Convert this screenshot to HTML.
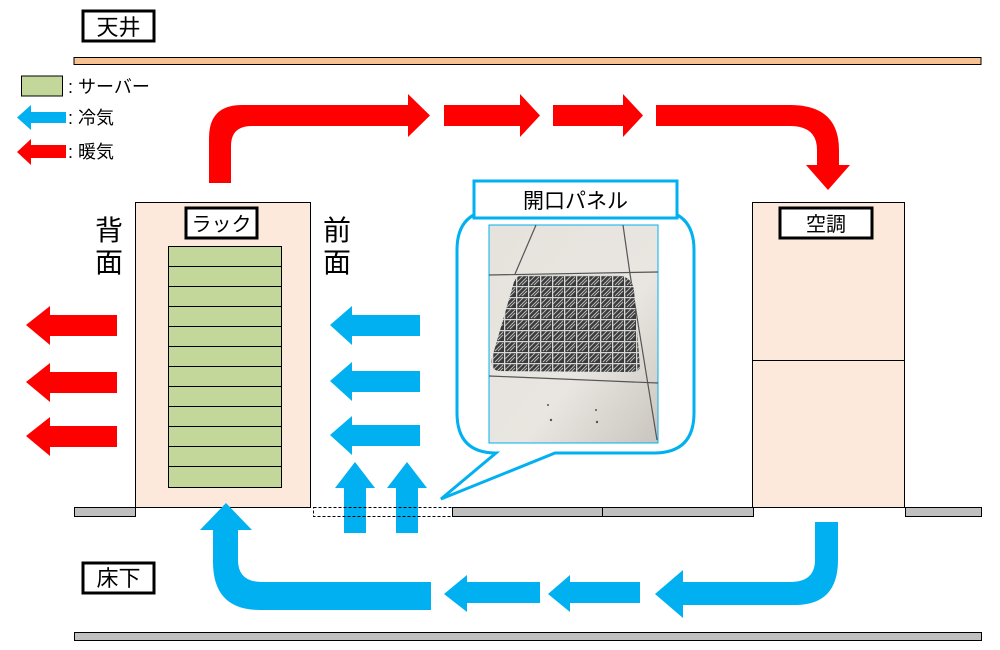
<!DOCTYPE html>
<html><head><meta charset="utf-8"><style>
html,body{margin:0;padding:0;background:#fff;}
svg{display:block;}
text{font-family:"Liberation Sans","Noto Sans CJK JP",sans-serif;fill:#000;}
</style></head><body>
<svg width="1000" height="650" viewBox="0 0 1000 650" xmlns="http://www.w3.org/2000/svg">
<defs>
<pattern id="grate" width="12" height="11" patternUnits="userSpaceOnUse">
<rect width="12" height="11" fill="#3a3a3a"/>
<path d="M0 0.5 H12 M0.5 0 V11" stroke="#d8d8d8" stroke-width="1.6"/>
<path d="M3 10 L11 2 M6 10 L11 5 M1 7 L7 1" stroke="#bdbdbd" stroke-width="0.9"/>
</pattern>
<linearGradient id="ph" x1="0" y1="0" x2="1" y2="1">
<stop offset="0" stop-color="#e6e2dc"/><stop offset="0.6" stop-color="#e9e6e1"/><stop offset="1" stop-color="#c9c5be"/>
</linearGradient>
</defs>

<!-- ceiling -->
<rect x="83" y="11" width="71" height="30" fill="#fff" stroke="#000" stroke-width="3"/>
<text x="118.5" y="35" font-size="22" text-anchor="middle">天井</text>
<rect x="74" y="57.5" width="907" height="7" fill="#f8c192" stroke="#000" stroke-width="1"/>

<!-- legend -->
<rect x="21.5" y="76" width="41" height="20" fill="#c4d79b" stroke="#000" stroke-width="1"/>
<text x="68" y="93" font-size="18">: サーバー</text>
<polygon points="17,117.5 31,105 31,112 66,112 66,123 31,123 31,130" fill="#00b0f0"/>
<text x="68" y="124" font-size="18">: 冷気</text>
<polygon points="17,152 31,139 31,145 66,145 66,158 31,158 31,165" fill="#ff0000"/>
<text x="68" y="158" font-size="18">: 暖気</text>

<!-- top red flow -->
<path d="M209,183 L209,138 Q209,105 242,105 L408,105 L408,94 L430,115.5 L408,137 L408,126 L252,126 Q231,126 231,146 L231,183 Z" fill="#ff0000"/>
<polygon points="444,105 520,105 520,94 540,115.5 520,137 520,126 444,126" fill="#ff0000"/>
<polygon points="553,105 623,105 623,94 643,115.5 623,137 623,126 553,126" fill="#ff0000"/>
<path d="M656,105 L790,105 Q839,105 839,150 L839,165 L850,165 L828,190 L806,165 L817,165 L817,150 Q817,126 790,126 L656,126 Z" fill="#ff0000"/>

<!-- rack -->
<rect x="135.5" y="202.5" width="175" height="305" fill="#fce9db" stroke="#000" stroke-width="1"/>
<rect x="186" y="208" width="71" height="30" fill="#fff" stroke="#000" stroke-width="3"/>
<text x="221.5" y="231" font-size="20" text-anchor="middle">ラック</text>
<g fill="#c4d79b" stroke="#000" stroke-width="1">
<rect x="168.5" y="246.5" width="113" height="20"/><rect x="168.5" y="266.5" width="113" height="20"/>
<rect x="168.5" y="286.5" width="113" height="20"/><rect x="168.5" y="306.5" width="113" height="20"/>
<rect x="168.5" y="326.5" width="113" height="20"/><rect x="168.5" y="346.5" width="113" height="20"/>
<rect x="168.5" y="366.5" width="113" height="20"/><rect x="168.5" y="386.5" width="113" height="20"/>
<rect x="168.5" y="406.5" width="113" height="20"/><rect x="168.5" y="426.5" width="113" height="20"/>
<rect x="168.5" y="446.5" width="113" height="20"/><rect x="168.5" y="466.5" width="113" height="21"/>
</g>
<text x="109" y="240" font-size="28" text-anchor="middle">背</text>
<text x="109" y="272" font-size="28" text-anchor="middle">面</text>
<text x="337" y="240" font-size="28" text-anchor="middle">前</text>
<text x="337" y="272" font-size="28" text-anchor="middle">面</text>

<!-- red left arrows -->
<polygon points="26,325 50,306 50,315 117,315 117,336 50,336 50,345" fill="#ff0000"/>
<polygon points="26,382 50,363 50,372 117,372 117,393 50,393 50,402" fill="#ff0000"/>
<polygon points="26,436 50,417 50,426 117,426 117,447 50,447 50,456" fill="#ff0000"/>

<!-- cyan left arrows -->
<polygon points="330,325 352,306 352,315 420,315 420,336 352,336 352,345" fill="#00b0f0"/>
<polygon points="330,381 352,362 352,371 420,371 420,392 352,392 352,401" fill="#00b0f0"/>
<polygon points="330,435 352,416 352,425 420,425 420,446 352,446 352,455" fill="#00b0f0"/>
<!-- up arrows -->
<polygon points="355,462 375,488 366,488 366,533 344,533 344,488 335,488" fill="#00b0f0"/>
<polygon points="407,462 427,488 418,488 418,533 396,533 396,488 387,488" fill="#00b0f0"/>

<!-- AC -->
<rect x="752.5" y="202.5" width="152" height="305" fill="#fce9db" stroke="#000" stroke-width="1"/>
<line x1="752.5" y1="360.5" x2="904.5" y2="360.5" stroke="#000" stroke-width="1"/>
<rect x="780" y="208" width="92" height="30" fill="#fff" stroke="#000" stroke-width="3"/>
<text x="826" y="231" font-size="20" text-anchor="middle">空調</text>

<!-- floor -->
<g fill="#c0c0c0" stroke="#000" stroke-width="1">
<rect x="74.5" y="507.5" width="61" height="9"/>
<rect x="452.5" y="507.5" width="150" height="9"/>
<rect x="602.5" y="507.5" width="151" height="9"/>
<rect x="905.5" y="507.5" width="76" height="9"/>
<rect x="74.5" y="632.5" width="907" height="8"/>
</g>
<rect x="313.5" y="507.5" width="139" height="9" fill="none" stroke="#000" stroke-width="1" stroke-dasharray="3,2"/>

<!-- bubble -->
<path d="M496,453 L441,499 L555,453 L654,453 Q694,453 694,413 L694,250 Q694,210 654,210 L497,210 Q457,210 457,250 L457,413 Q457,453 496,453 Z" fill="#fff" stroke="#00b0f0" stroke-width="3"/>
<rect x="474" y="181" width="203" height="37" fill="#fff" stroke="#00b0f0" stroke-width="3"/>
<text x="575.5" y="208" font-size="21" text-anchor="middle">開口パネル</text>
<rect x="489" y="225" width="169" height="218" fill="url(#ph)" stroke="#00b0f0" stroke-width="1"/>
<g stroke="#555" stroke-width="1.2" fill="none">
<line x1="536" y1="225" x2="515" y2="274"/>
<line x1="623" y1="225" x2="630" y2="274"/>
<line x1="489" y1="275" x2="658" y2="272"/>
<line x1="489" y1="376" x2="658" y2="383"/>
<line x1="630" y1="274" x2="657" y2="440"/>
</g>
<path d="M524,275 L618,275 Q632,277 634,290 L640,368 Q638,372 630,372 L498,371 Q490,369 492,358 L514,282 Q517,275 524,275 Z" fill="url(#grate)"/>
<g fill="#555"><circle cx="548" cy="405" r="1"/><circle cx="551" cy="420" r="1.2"/><circle cx="596" cy="410" r="1"/><circle cx="597" cy="422" r="1.2"/></g>

<!-- bottom cyan flow -->
<path d="M815,522 L838,522 L838,560 Q838,605 795,605 L683,605 L683,618 L655,594 L683,570 L683,582 L790,582 Q815,582 815,560 Z" fill="#00b0f0"/>
<polygon points="548,594 570,575 570,582 640,582 640,603 570,603 570,612" fill="#00b0f0"/>
<polygon points="444,594 467,575 467,582 540,582 540,603 467,603 467,612" fill="#00b0f0"/>
<path d="M431,582 L431,610 L260,610 Q213,610 213,562 L213,530 L200,530 L226,503 L252,530 L238,530 L238,560 Q238,582 262,582 Z" fill="#00b0f0"/>

<rect x="83" y="563" width="71" height="30" fill="#fff" stroke="#000" stroke-width="3"/>
<text x="118.5" y="586" font-size="22" text-anchor="middle">床下</text>
</svg>
</body></html>
